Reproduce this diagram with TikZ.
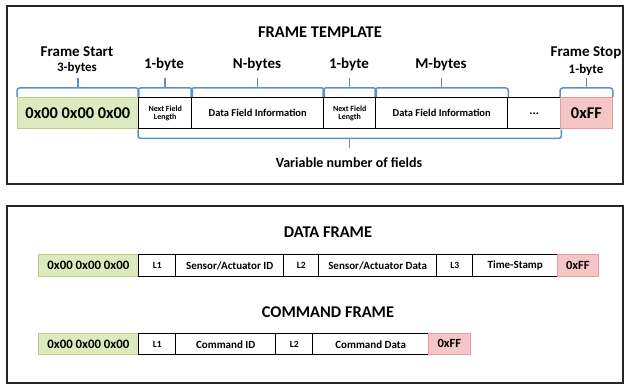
\documentclass[tikz,border=0pt]{standalone}
\usepackage{fontspec}
\setmainfont{Carlito}
\usetikzlibrary{calc}
\definecolor{gfill}{HTML}{DCEABD}
\definecolor{gline}{HTML}{B9D08A}
\definecolor{pfill}{HTML}{F5C6C6}
\definecolor{pline}{HTML}{E29C9C}
\definecolor{brk}{HTML}{5E8FCB}
\newcommand{\fs}[1]{\fontsize{#1}{#1}\selectfont\bfseries}
\tikzset{
  frm/.style={draw=black!85, line width=1.2pt},
  fld/.style={draw=black, line width=1.4pt, inner sep=0pt, anchor=north west, align=center},
  grn/.style={fld, draw=gline, fill=gfill, line width=0.8pt},
  pnk/.style={fld, draw=pline, fill=pfill, line width=0.8pt},
  brkline/.style={draw=brk, line width=1.5pt, rounded corners=2.5pt},
  ttl/.style={font=\fs{16.4}},
  lbl/.style={font=\fs{15}, inner sep=0pt},
  sublbl/.style={font=\fs{13}, inner sep=0pt},
}
% \fld{name}{style}{x1}{x2}{y1}{y2}{font}{text}
\newcommand{\fld}[8]{\node[#2, minimum width=#4-#3, minimum height=#6-#5, font=\fs{#7}] (#1) at (#3,#5) {#8};}
% top bracket over node(s): left node, right node
\newcommand{\topbrk}[2]{%
  \draw[brkline] (#1.north west) -- ($(#1.north west)+(0,-9)$) -- ($(#1.north west)!0.5!(#2.north east)+(0,-9)$) -- ($(#2.north east)+(0,-9)$) -- (#2.north east);
  \draw[draw=brk, line width=1.5pt] ($(#1.north west)!0.5!(#2.north east)+(0,-9)$) -- ($(#1.north west)!0.5!(#2.north east)+(0,-19)$);}
\begin{document}
\begin{tikzpicture}[x=1pt,y=-1pt]
\useasboundingbox (0,0) rectangle (626,385);
% ---------- frame template ----------
\draw[frm] (7,6) rectangle (623,184);
\node[ttl] (t1) at (320,32) {FRAME TEMPLATE};
\fld{g}{grn}{17}{138}{97}{128}{16.4}{0x00 0x00 0x00}
\fld{nf1}{fld}{138}{191}{97}{128}{8}{Next Field\\[0pt]Length}
\fld{d1}{fld}{191}{323}{97}{128}{10.5}{Data Field Information}
\fld{nf2}{fld}{323}{375}{97}{128}{8}{Next Field\\[0pt]Length}
\fld{d2}{fld}{375}{507}{97}{128}{10.5}{Data Field Information}
\fld{dots}{fld}{507}{560}{97}{128}{12}{...}
\fld{ff}{pnk}{560}{612}{97}{128}{16.4}{0xFF}
\topbrk{g}{g}
\topbrk{nf1}{nf1}
\topbrk{d1}{d1}
\topbrk{nf2}{nf2}
\topbrk{d2}{d2}
\topbrk{ff}{ff}
\draw[brkline] (nf1.south west) -- ($(nf1.south west)+(0,9)$) -- ($(dots.south east)+(0,9)$) -- (dots.south east);
\draw[draw=brk, line width=1.5pt] ($(nf1.south west)!0.5!(dots.south east)+(0,9)$) -- ($(nf1.south west)!0.5!(dots.south east)+(0,19)$);
\node[lbl] (fs1) at (77,52) {Frame Start};
\node[sublbl] (fs2) at (77,68) {3-bytes};
\node[lbl] (b1) at (164,64) {1-byte};
\node[lbl] (nb) at (257,64) {N-bytes};
\node[lbl] (b2) at (349,64) {1-byte};
\node[lbl] (mb) at (441,64) {M-bytes};
\node[lbl] (st1) at (586,53) {Frame Stop};
\node[sublbl] (st2) at (586,70) {1-byte};
\node[font=\fs{14}, inner sep=0pt] (var) at (349,163) {Variable number of fields};
% ---------- data / command frames ----------
\draw[frm] (7,206) rectangle (623,383);
\node[ttl] (t2) at (328,232) {DATA FRAME};
\fld{dg}{grn}{38}{138}{254}{276}{12.8}{0x00 0x00 0x00}
\fld{dl1}{fld}{138}{175}{254}{276}{9.5}{L1}
\fld{did}{fld}{175}{283}{254}{276}{11}{Sensor/Actuator ID}
\fld{dl2}{fld}{283}{318}{254}{276}{9.5}{L2}
\fld{dsd}{fld}{318}{436}{254}{276}{11}{Sensor/Actuator Data}
\fld{dl3}{fld}{436}{472}{254}{276}{9.5}{L3}
\fld{dts}{fld}{472}{557}{254}{276}{11}{Time-Stamp}
\fld{dff}{pnk}{557}{598}{254}{276}{12.5}{0xFF}
\node[ttl] (t3) at (328,312) {COMMAND FRAME};
\fld{cg}{grn}{38}{138}{333}{354}{12.8}{0x00 0x00 0x00}
\fld{cl1}{fld}{138}{175}{333}{354}{9.5}{L1}
\fld{cid}{fld}{175}{275}{333}{354}{11}{Command ID}
\fld{cl2}{fld}{275}{312}{333}{354}{9.5}{L2}
\fld{ccd}{fld}{312}{428}{333}{354}{11}{Command Data}
\fld{cff}{pnk}{428}{470}{333}{354}{12.5}{0xFF}
\end{tikzpicture}
\end{document}
